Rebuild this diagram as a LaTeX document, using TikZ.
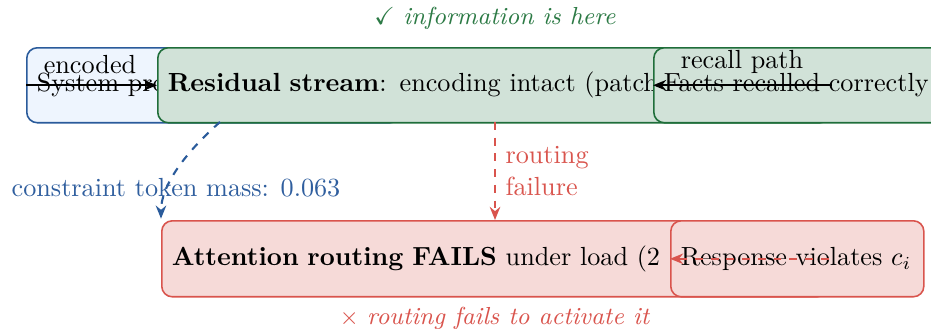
\documentclass[tikz,border=0pt]{standalone}
\usepackage{amssymb}
\usetikzlibrary{arrows.meta}
\definecolor{bbord}{HTML}{2A5B9B}
\definecolor{bfill}{HTML}{EEF5FE}
\definecolor{gbord}{HTML}{1F6E3A}
\definecolor{gfill}{HTML}{D1E2D8}
\definecolor{rbord}{HTML}{D9544D}
\definecolor{rfill}{HTML}{F6DAD8}
\definecolor{btext}{HTML}{2F5E9E}
\definecolor{gtext}{HTML}{2C7A45}
\tikzset{
  box/.style={rounded corners=4pt, line width=0.6pt, minimum height=28.6pt,
    inner xsep=3.82pt, inner ysep=0pt, anchor=north west, align=left},
  bluebox/.style={box, draw=bbord, fill=bfill},
  greenbox/.style={box, draw=gbord, fill=gfill},
  redbox/.style={box, draw=rbord, fill=rfill, minimum height=29pt},
  arr/.style={-{Stealth[length=5pt,width=4pt]}, line width=0.8pt},
  lbl/.style={inner sep=0pt},
  capt/.style={inner sep=0pt, font=\fontsize{9.4}{11}\selectfont}
}
\begin{document}
\begin{tikzpicture}[x=0.3817pt,y=-0.3817pt]
\useasboundingbox (0,0) rectangle (931,328);
% top row
\node[bluebox, text width=354*0.3817pt] (system) at (26,47) {System prompt};
\node[greenbox, text width=653*0.3817pt] (residual) at (157,47) {\textbf{Residual stream}: encoding intact (patching};
\node[greenbox, text width=270*0.3817pt] (facts) at (653,47) {Facts recalled correctly};
\draw[arr] (system.west) -- (residual.west);
\node[lbl, anchor=base] (enc) at (90,73) {encoded};
\draw[arr] (residual.east) -- (facts.west);
\node[lbl, anchor=base] (rec) at (742,68) {recall path};
% bottom row
\node[redbox, text width=646*0.3817pt] (attention) at (161,220) {\textbf{Attention routing FAILS} under load (2};
\node[redbox, text width=233*0.3817pt] (response) at (670,220) {Response violates $c_i$};
\draw[arr, rbord, dashed] (attention.east) -- (response.west);
% vertical connectors
\coordinate (rs) at (495,122);
\coordinate (bs) at (220,122);
\draw[arr, rbord, dashed] (rs) -- (rs |- attention.north);
\node[lbl, rbord, anchor=north west, align=left] (rfail) at (505,146) {routing\\failure};
\draw[arr, bbord, dashed] (bs) .. controls (186,152) and (161,185) .. ([yshift=0.5pt]attention.north west);
\node[lbl, btext] (mass) at (176,188) {constraint token mass: 0.063};
% captions
\node[capt, gtext] (top) at (495,18) {$\checkmark$\ \textit{information is here}};
\node[capt, rbord] (bot) at (495,318) {$\times$ \textit{routing fails to activate it}};
\end{tikzpicture}
\end{document}
